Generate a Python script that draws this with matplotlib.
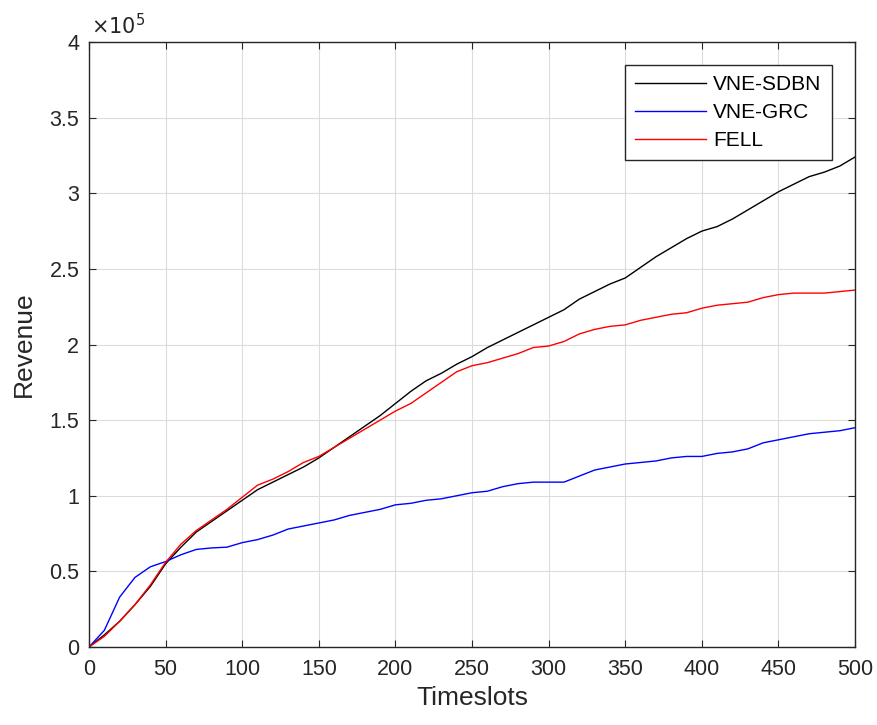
import numpy as np
import matplotlib
matplotlib.use("Agg")
import matplotlib.pyplot as plt

plt.rcParams['font.family'] = ['Liberation Sans', 'DejaVu Sans']

# revenue in units of 1e5, sampled every 10 timeslots
timeslots = np.arange(0, 501, 10)
sdbn = [0, 0.08, 0.17, 0.28, 0.40, 0.55, 0.66, 0.76, 0.83, 0.90,
        0.97, 1.04, 1.09, 1.14, 1.19, 1.25, 1.32, 1.39, 1.46, 1.53,
        1.61, 1.69, 1.76, 1.81, 1.87, 1.92, 1.98, 2.03, 2.08, 2.13,
        2.18, 2.23, 2.30, 2.35, 2.40, 2.44, 2.51, 2.58, 2.64, 2.70,
        2.75, 2.78, 2.83, 2.89, 2.95, 3.01, 3.06, 3.11, 3.14, 3.18, 3.24]
grc = [0, 0.11, 0.33, 0.46, 0.53, 0.565, 0.61, 0.645, 0.655, 0.66,
       0.69, 0.71, 0.74, 0.78, 0.80, 0.82, 0.84, 0.87, 0.89, 0.91,
       0.94, 0.95, 0.97, 0.98, 1.00, 1.02, 1.03, 1.06, 1.08, 1.09,
       1.09, 1.09, 1.13, 1.17, 1.19, 1.21, 1.22, 1.23, 1.25, 1.26,
       1.26, 1.28, 1.29, 1.31, 1.35, 1.37, 1.39, 1.41, 1.42, 1.43, 1.45]
fell = [0, 0.07, 0.17, 0.28, 0.41, 0.56, 0.68, 0.77, 0.84, 0.91,
        0.99, 1.07, 1.11, 1.16, 1.22, 1.26, 1.32, 1.38, 1.44, 1.50,
        1.56, 1.61, 1.68, 1.75, 1.82, 1.86, 1.88, 1.91, 1.94, 1.98,
        1.99, 2.02, 2.07, 2.10, 2.12, 2.13, 2.16, 2.18, 2.20, 2.21,
        2.24, 2.26, 2.27, 2.28, 2.31, 2.33, 2.34, 2.34, 2.34, 2.35, 2.36]

fig = plt.figure(figsize=(8.77, 7.25), dpi=100)
ax = fig.add_axes([0.1015, 0.1076, 0.8735, 0.8344])

ax.plot(timeslots, sdbn, color='black', lw=1.0, label='VNE-SDBN')
ax.plot(timeslots, grc, color='blue', lw=1.0, label='VNE-GRC')
ax.plot(timeslots, fell, color='red', lw=1.0, label='FELL')

ax.set_xlim(0, 500)
ax.set_ylim(0, 4)
ax.set_xticks(np.arange(0, 501, 50))
ax.set_yticks(np.arange(0, 4.01, 0.5))
ax.set_yticklabels(['0', '0.5', '1', '1.5', '2', '2.5', '3', '3.5', '4'])

ax.grid(True, color='#dcdcdc', lw=0.8)
ax.set_axisbelow(True)
ax.tick_params(direction='in', top=True, right=True, labelsize=15.5,
               colors='#262626', length=5)
ax.tick_params(axis='x', pad=9)
ax.tick_params(axis='y', pad=7)
for s in ax.spines.values():
    s.set_color('#262626')
    s.set_linewidth(1.0)

ax.set_xlabel('Timeslots', fontsize=19, color='#262626', labelpad=4)
ax.set_ylabel('Revenue', fontsize=19, color='#262626', labelpad=10)
ax.text(0.003, 1.006, r'$\times 10^5$', transform=ax.transAxes,
        fontsize=15, color='#262626', va='bottom', ha='left')

leg = ax.legend(loc='upper right', bbox_to_anchor=(0.970, 0.962),
                borderaxespad=0, fontsize=15,
                fancybox=False, framealpha=1, edgecolor='#262626',
                handlelength=3.4, handletextpad=0.35, borderpad=0.5,
                labelspacing=0.42)
leg.get_frame().set_linewidth(1.0)

fig.savefig('out.png', dpi=100)
